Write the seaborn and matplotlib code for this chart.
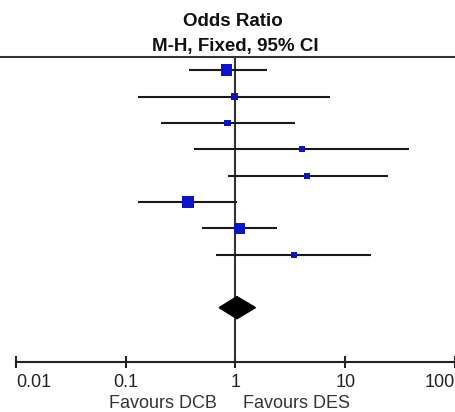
import matplotlib
matplotlib.use("Agg")
import matplotlib.pyplot as plt
from matplotlib.lines import Line2D
import numpy as np
import pandas as pd
import seaborn as sns

# study rows (odds ratio, 95% CI, weight %)
odds_ratio = [0.83, 0.98, 0.85, 4.0, 4.5, 0.37, 1.09, 3.4]
ci_low = [0.38, 0.128, 0.21, 0.42, 0.86, 0.128, 0.50, 0.66]
ci_high = [1.92, 7.3, 3.5, 37.7, 24.3, 1.04, 2.41, 17.3]
weight = [27.0, 2.5, 3.5, 1.5, 2.8, 33.0, 24.0, 3.0]

# pooled estimate (diamond)
pooled_or = 1.03
pooled_low = 0.71
pooled_high = 1.52

tick_values = [0.01, 0.1, 1, 10, 100]
tick_labels = ["0.01", "0.1", "1", "10", "100"]

df = pd.DataFrame({"row": np.arange(len(odds_ratio)), "or": odds_ratio,
                   "lo": ci_low, "hi": ci_high, "weight": weight})

sns.set_theme(style="white")
plt.rcParams["font.family"] = ["Liberation Sans", "DejaVu Sans"]

W, H = 456, 412
fig = plt.figure(figsize=(W / 100, H / 100), dpi=100)
ax = fig.add_axes([16 / W, 1 - 362 / H, (455 - 16) / W, (362 - 57) / H])

pooled_row = 9
ax.set_xscale("log")
ax.set_xlim(0.01, 100)
ax.set_ylim(11.06, -0.5)

ax.axvline(1, color="#333333", lw=1.5, zorder=1)
ax.hlines(df["row"], df["lo"], df["hi"], color="#1a1a1a", lw=1.5, zorder=2)
sns.scatterplot(data=df, x="or", y="row", size="weight", sizes=(18, 82),
                size_norm=(min(weight), max(weight)), marker="s",
                color="#0a14c8", edgecolor="none", legend=False, ax=ax, zorder=3)

h = 0.42
ax.fill([pooled_low, pooled_or, pooled_high, pooled_or],
        [pooled_row, pooled_row - h, pooled_row, pooled_row + h],
        color="black", zorder=4)

for s in ["left", "top", "right"]:
    ax.spines[s].set_visible(False)
ax.spines["bottom"].set_color("#222222")
ax.spines["bottom"].set_linewidth(1.5)
ax.set_xticks(tick_values)
ax.set_xticklabels(tick_labels)
ax.minorticks_off()
ax.set_yticks([])
ax.set_xlabel("")
ax.set_ylabel("")
ax.tick_params(axis="x", direction="inout", length=9, width=1.5, color="#222222",
               labelsize=13, labelcolor="#222222", pad=4, bottom=True)
labels = ax.get_xticklabels()
labels[0].set_ha("left")
labels[-1].set_ha("right")

fig.add_artist(Line2D([0, 1], [1 - 57 / H] * 2, transform=fig.transFigure,
                      color="#333333", lw=1.5))
fig.text(233 / W, 1 - 21 / H, "Odds Ratio", ha="center", va="center",
         fontsize=13.5, fontweight="bold", color="#111111")
fig.text(235 / W, 1 - 47 / H, "M-H, Fixed, 95% CI", ha="center", va="center",
         fontsize=13.5, fontweight="bold", color="#111111")
fig.text(217 / W, 1 - 404 / H, "Favours DCB", ha="right", va="center",
         fontsize=13, color="#333333")
fig.text(243 / W, 1 - 404 / H, "Favours DES", ha="left", va="center",
         fontsize=13, color="#333333")

fig.savefig("out.png", dpi=100)
